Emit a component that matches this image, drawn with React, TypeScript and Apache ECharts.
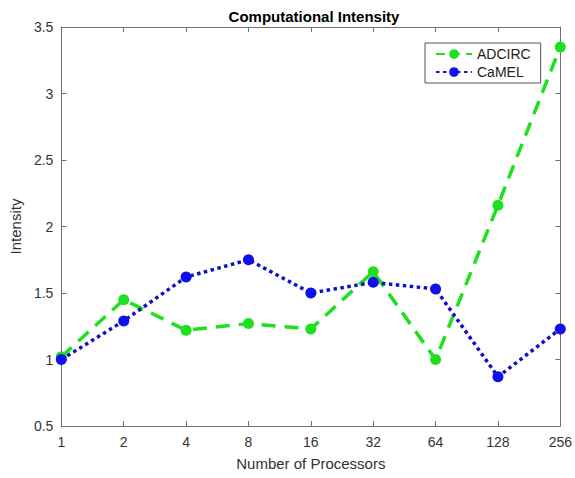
import React, { useEffect, useRef } from "react";
import * as echarts from "echarts";

const categories = ["1", "2", "4", "8", "16", "32", "64", "128", "256"];
const adcirc = [1.02, 1.45, 1.22, 1.27, 1.23, 1.66, 1.0, 2.16, 3.35];
const camel = [1.0, 1.29, 1.62, 1.75, 1.5, 1.58, 1.53, 0.87, 1.23];
const yTicks = { min: 0.5, max: 3.5, interval: 0.5 };

const FONT = "Liberation Sans, Arial, Helvetica, sans-serif";

export default function App() {
  const ref = useRef<HTMLDivElement>(null);
  useEffect(() => {
    if (!ref.current) return;
    document.body.style.margin = "0";
    const chart = echarts.init(ref.current, undefined, { renderer: "svg" });
    const axisLine = { show: true, lineStyle: { color: "#707070", width: 1 } };
    const tick = { show: true, inside: true, length: 5, lineStyle: { color: "#707070" } };
    chart.setOption({
      animation: false,
      backgroundColor: "#ffffff",
      textStyle: { fontFamily: FONT },
      title: {
        text: "Computational Intensity",
        left: 309,
        textAlign: "center",
        top: 4,
        textStyle: { fontFamily: FONT, fontSize: 15, fontWeight: "bold", color: "#000" },
      },
      legend: {
        left: 425,
        top: 43,
        orient: "vertical",
        itemWidth: 36,
        itemHeight: 12,
        itemGap: 4,
        padding: [4, 10, 4, 10],
        borderColor: "#555555",
        borderWidth: 1,
        backgroundColor: "#fff",
        textStyle: { fontFamily: FONT, fontSize: 14, color: "#222" },
        data: [
          { name: "ADCIRC", lineStyle: { type: [9, 6] } },
          { name: "CaMEL" },
        ],
      },
      grid: { left: 57, right: 14, top: 27, bottom: 52, containLabel: false },
      xAxis: [
        {
          type: "category",
          data: categories,
          boundaryGap: false,
          name: "Number of Processors",
          nameLocation: "middle",
          nameGap: 30,
          nameTextStyle: { fontFamily: FONT, fontSize: 15, color: "#333" },
          axisLine,
          axisTick: tick,
          axisLabel: { fontFamily: FONT, fontSize: 14, color: "#333", margin: 9 },
          splitLine: { show: false },
        },
        {
          type: "category",
          data: categories,
          boundaryGap: false,
          position: "top",
          axisLine,
          axisTick: tick,
          axisLabel: { show: false },
          splitLine: { show: false },
        },
      ],
      yAxis: [
        {
          type: "value",
          ...yTicks,
          name: "Intensity",
          nameLocation: "middle",
          nameGap: 38,
          nameTextStyle: { fontFamily: FONT, fontSize: 15, color: "#333" },
          axisLine,
          axisTick: tick,
          axisLabel: { fontFamily: FONT, fontSize: 14, color: "#333", margin: 8 },
          splitLine: { show: false },
        },
        {
          type: "value",
          ...yTicks,
          position: "right",
          axisLine,
          axisTick: tick,
          axisLabel: { show: false },
          splitLine: { show: false },
        },
      ],
      series: [
        {
          name: "ADCIRC",
          type: "line",
          data: adcirc,
          symbol: "circle",
          symbolSize: 11,
          itemStyle: { color: "#1fe01f" },
          lineStyle: { color: "#1fe01f", width: 3.5, type: [14, 9] },
          z: 2,
        },
        {
          name: "CaMEL",
          type: "line",
          data: camel,
          symbol: "circle",
          symbolSize: 11,
          itemStyle: { color: "#1010ee" },
          lineStyle: { color: "#1010c8", width: 3.5, type: [3.5, 3.5] },
          z: 3,
        },
      ],
    });
    return () => chart.dispose();
  }, []);
  return <div ref={ref} style={{ width: 575, height: 478 }} />;
}
